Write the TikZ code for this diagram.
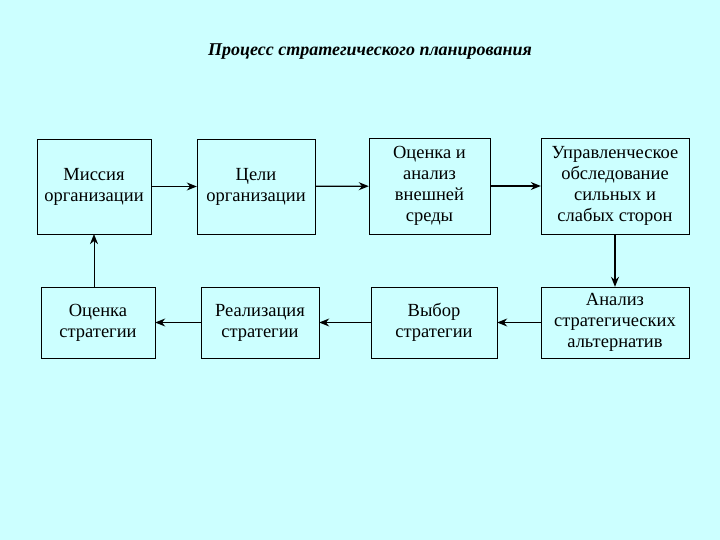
\documentclass[tikz,border=0pt]{standalone}
\usepackage{fontspec}
\setmainfont{Liberation Serif}
\usetikzlibrary{arrows.meta}
\definecolor{bgcyan}{RGB}{204,255,255}

\begin{document}
\begin{tikzpicture}[x=1pt,y=-1pt,
   blk/.style n args={4}{draw,fill=white,minimum width=#3pt,minimum height=#4pt,
      align=center,inner sep=1pt,font=\fontsize{18.5}{21}\selectfont,fill=none},
   arr/.style={-{Stealth[length=10pt,width=8pt]},line width=1.2pt}]
\fill[bgcyan] (0,0) rectangle (720,540);
\useasboundingbox (0,0) rectangle (720,540);
\node[font=\fontsize{18}{21}\selectfont\bfseries\itshape] (title) at (370,52) {Процесс стратегического планирования};
% first row
\node[blk={}{}{114}{95}] (mission) at (94,186.5) {Миссия\\организации};
\node[blk={}{}{118}{95}] (goals) at (256,186.5) {Цели\\организации};
\node[blk={}{}{121}{96}] (env) at (429.5,186) {Оценка и\\анализ\\внешней\\среды};
\node[blk={}{}{148}{96}] (audit) at (615,186) {Управленческое\\обследование\\сильных и\\слабых сторон};
% second row
\node[blk={}{}{114}{71}] (eval) at (98,322.5) {Оценка\\стратегии};
\node[blk={}{}{118}{71}] (impl) at (260,322.5) {Реализация\\стратегии};
\node[blk={}{}{126}{71}] (choice) at (434,322.5) {Выбор\\стратегии};
\node[blk={}{}{148}{71}] (alt) at (615,322.5) {Анализ\\стратегических\\альтернатив};
% connectors
\draw[arr] (mission) -- (goals);
\draw[arr] (goals) -- (env);
\draw[arr] (env) -- (audit);
\draw[arr] (audit) -- (alt);
\draw[arr] (alt) -- (choice);
\draw[arr] (choice) -- (impl);
\draw[arr] (impl) -- (eval);
\draw[arr,line width=0.5pt] (eval.north -| mission) -- (mission.south);
\end{tikzpicture}
\end{document}
